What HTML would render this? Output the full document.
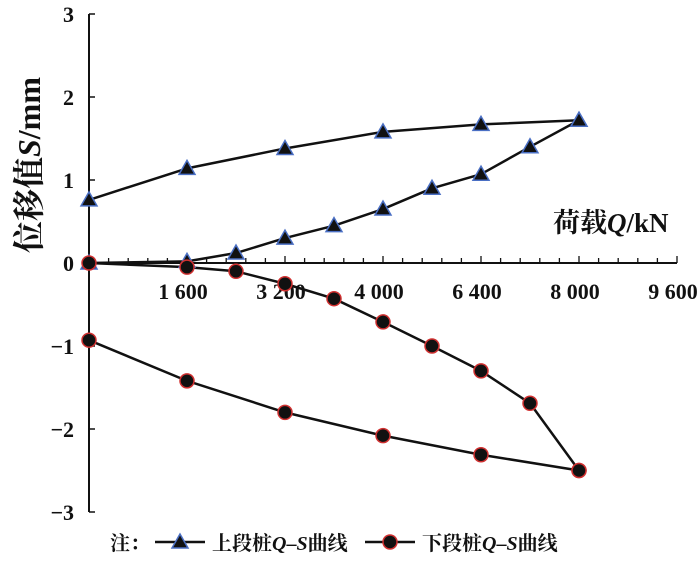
<!DOCTYPE html>
<html><head><meta charset="utf-8"><style>
html,body{margin:0;padding:0;background:#fff;}
svg text{font-family:"Liberation Serif","Noto Serif CJK SC",serif;fill:#111;}
</style></head><body>
<svg id="c" width="700" height="558" xmlns="http://www.w3.org/2000/svg">
<g id="axes"></g><g id="series"></g>
<text x="553" y="232" font-size="27" font-weight="bold">荷载<tspan font-style="italic">Q</tspan>/kN</text>
<text transform="translate(40,165) rotate(-90)" text-anchor="middle" font-size="32" font-weight="bold">位移值<tspan font-style="italic">S</tspan>/mm</text>
<g>
<text x="110" y="550" font-size="20" font-weight="bold">注：</text>
<line x1="155" y1="542" x2="205" y2="542" stroke="#111" stroke-width="2.5"/>
<polygon points="180,534 172,548 188,548" fill="#111" stroke="#4a6fc4" stroke-width="1.5"/>
<text x="212" y="550" font-size="20" font-weight="bold">上段桩<tspan font-style="italic">Q</tspan>–<tspan font-style="italic">S</tspan>曲线</text>
<line x1="365" y1="542" x2="415" y2="542" stroke="#111" stroke-width="2.5"/>
<circle cx="390" cy="542" r="7" fill="#111" stroke="#d03030" stroke-width="1.5"/>
<text x="422" y="550" font-size="20" font-weight="bold">下段桩<tspan font-style="italic">Q</tspan>–<tspan font-style="italic">S</tspan>曲线</text>
</g>
</svg>
<script>
const upperLoadQ=[0,1600,2400,3200,4000,4800,5600,6400,7200,8000];
const upperLoadS=[0,0.02,0.12,0.3,0.45,0.65,0.9,1.07,1.4,1.72];
const upperUnloadQ=[8000,6400,4800,3200,1600,0];
const upperUnloadS=[1.72,1.67,1.58,1.38,1.14,0.76];
const lowerLoadQ=[0,1600,2400,3200,4000,4800,5600,6400,7200,8000];
const lowerLoadS=[0,-0.05,-0.1,-0.25,-0.43,-0.71,-1.0,-1.3,-1.69,-2.5];
const lowerUnloadQ=[8000,6400,4800,3200,1600,0];
const lowerUnloadS=[-2.5,-2.31,-2.08,-1.8,-1.42,-0.93];
const xTickLabels=["1 600","3 200","4 000","6 400","8 000","9 600"];
const yTicks=[3,2,1,0,-1,-2,-3];
const NS="http://www.w3.org/2000/svg";
const X=q=>89+q/1600*98;
const Y=s=>263-s*83;
function mk(t,a,p){const e=document.createElementNS(NS,t);for(const k in a)e.setAttribute(k,a[k]);p.appendChild(e);return e;}
const ax=document.getElementById('axes');
const yl=mk('line',{x1:89,y1:Y(3),x2:89,y2:Y(-3),stroke:'#111','stroke-width':2},ax);


const xl=mk('line',{x1:89,y1:Y(0),x2:X(9600),y2:Y(0),stroke:'#111','stroke-width':2},ax);


yTicks.forEach(v=>{
  mk('line',{x1:89,y1:Y(v),x2:95,y2:Y(v),stroke:'#111','stroke-width':1.5},ax);
  const t=mk('text',{x:74,y:Y(v)+8,'text-anchor':'end','font-size':22,'font-weight':'bold'},ax);
  t.textContent=v<0?'\u2212'+(-v):String(v);
  
  
});
for(let i=1;i<=30;i++){const q=i*320;const maj=i%5===0;
  mk('line',{x1:X(q),y1:Y(0),x2:X(q),y2:Y(0)-(maj?7:5),stroke:'#111','stroke-width':1.3},ax);}
xTickLabels.forEach((l,i)=>{
  const t=mk('text',{x:X((i+1)*1600)-4,y:Y(0)+36,'text-anchor':'middle','font-size':22,'font-weight':'bold'},ax);
  t.textContent=l;
  
  
});
const sg=document.getElementById('series');
function line(qs,ss,name){
  const p=mk('polyline',{points:qs.map((q,i)=>X(q)+','+Y(ss[i])).join(' '),fill:'none',stroke:'#111','stroke-width':2.5,'stroke-linejoin':'round'},sg);
  
  
}
line(upperLoadQ,upperLoadS,'upper-load-line');
line(upperUnloadQ,upperUnloadS,'upper-unload-line');
line(lowerLoadQ,lowerLoadS,'lower-load-line');
line(lowerUnloadQ,lowerUnloadS,'lower-unload-line');
function tri(qs,ss){qs.forEach((q,i)=>{const x=X(q),y=Y(ss[i]);
  const p=mk('polygon',{points:`${x},${y-8} ${x-8},${y+6} ${x+8},${y+6}`,fill:'#111',stroke:'#4a6fc4','stroke-width':1.5},sg);
  
  });}
function cir(qs,ss){qs.forEach((q,i)=>{
  const c=mk('circle',{cx:X(q),cy:Y(ss[i]),r:7,fill:'#111',stroke:'#d03030','stroke-width':1.5},sg);
  
  });}
tri(upperLoadQ,upperLoadS);tri(upperUnloadQ,upperUnloadS);
cir(lowerLoadQ,lowerLoadS);cir(lowerUnloadQ,lowerUnloadS);
</script>
</body></html>
